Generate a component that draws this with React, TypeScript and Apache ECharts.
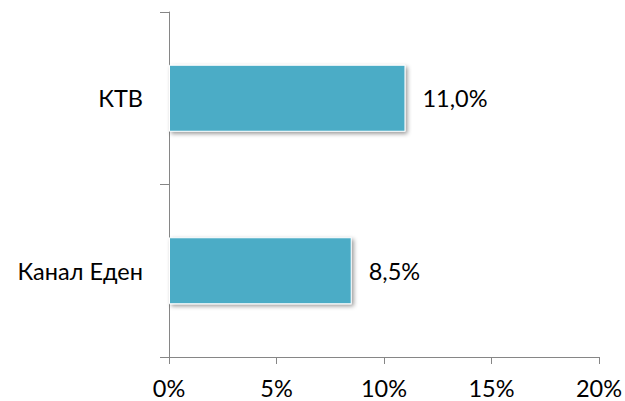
import React, { useEffect, useRef } from "react";
import * as echarts from "echarts";

const categories = ["Канал Еден", "КТВ"];
const values = [8.5, 11.0];
const xTicks = { min: 0, max: 20, interval: 5 };

const FONT = "Lato";
const FS = 23.5;

export default function App() {
  const ref = useRef<HTMLDivElement>(null);
  useEffect(() => {
    if (!ref.current) return;
    const chart = echarts.init(ref.current, null, { renderer: "svg" });
    chart.setOption({
      animation: false,
      backgroundColor: "#ffffff",
      grid: { left: 169, right: 25, top: 12, bottom: 44, containLabel: false },
      xAxis: {
        type: "value",
        min: xTicks.min,
        max: xTicks.max,
        interval: xTicks.interval,
        axisLine: { show: true, lineStyle: { color: "#868686", width: 1 } },
        axisTick: { show: true, length: 7, lineStyle: { color: "#868686" } },
        splitLine: { show: false },
        axisLabel: {
          formatter: "{value}%",
          color: "#000",
          fontFamily: FONT,
          fontSize: FS,
          margin: 19,
        },
      },
      yAxis: {
        type: "category",
        data: categories,
        axisLine: { show: true, lineStyle: { color: "#868686", width: 1 } },
        axisTick: { show: true, length: 9, lineStyle: { color: "#868686" } },
        axisLabel: {
          color: "#000",
          fontFamily: FONT,
          fontSize: FS,
          margin: 26,
        },
      },
      series: [
        {
          type: "bar",
          data: values,
          barWidth: 67,
          itemStyle: {
            color: "#4BACC6",
            borderColor: "#ffffff",
            borderWidth: 1,
            shadowColor: "rgba(0,0,0,0.4)",
            shadowBlur: 4,
            shadowOffsetX: 2,
            shadowOffsetY: 2,
          },
          label: {
            show: true,
            position: "right",
            distance: 17,
            color: "#000",
            fontFamily: FONT,
            fontSize: FS,
            formatter: (p: any) => p.value.toFixed(1).replace(".", ",") + "%",
          },
        },
      ],
    });
    return () => chart.dispose();
  }, []);
  return (
    <div
      ref={ref}
      style={{ position: "fixed", left: 0, top: 0, width: 625, height: 401 }}
    />
  );
}
